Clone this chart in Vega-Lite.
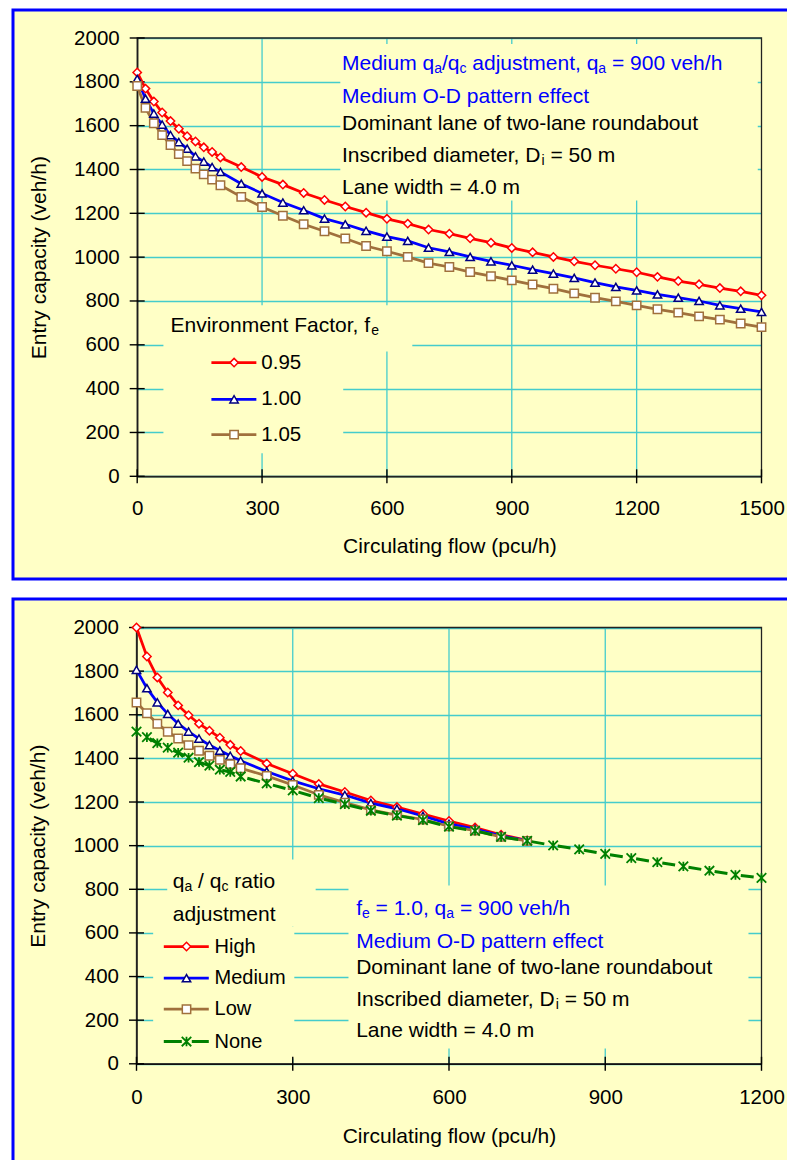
{
  "$schema": "https://vega.github.io/schema/vega-lite/v6.json",
  "usermeta": {"embedOptions": {"actions": false}},
  "background": "#FFFFFF",
  "padding": {"left": 11, "top": 8, "right": 0, "bottom": 0},
  "spacing": 16,
  "config": {
    "font": "Liberation Sans",
    "view": {"fill": "#FFFFC6", "stroke": "#0000FF", "strokeWidth": 3},
    "axis": {
      "labelFont": "Liberation Sans", "titleFont": "Liberation Sans",
      "labelFontSize": 20.5, "titleFontSize": 21, "titleFontWeight": "normal",
      "labelColor": "#000000", "titleColor": "#000000",
      "domainColor": "#000000", "domainWidth": 1.4,
      "ticks": false, "tickSize": 0,
      "gridColor": "#44CCCC", "gridWidth": 1.3, "gridOpacity": 1,
      "labelOverlap": false, "labelFlush": false, "format": "d"
    },
    "tick": {"color": "#000000", "thickness": 1.4, "opacity": 1},
    "text": {"font": "Liberation Sans"}
  },
  "datasets": {
    "envFactor": [
      {"flow":0,"capacity":1843,"factor":"0.95"},{"flow":20,"capacity":1769,"factor":"0.95"},{"flow":40,"capacity":1710,"factor":"0.95"},{"flow":60,"capacity":1660,"factor":"0.95"},{"flow":80,"capacity":1621,"factor":"0.95"},{"flow":100,"capacity":1586,"factor":"0.95"},{"flow":120,"capacity":1552,"factor":"0.95"},{"flow":140,"capacity":1528,"factor":"0.95"},{"flow":160,"capacity":1501,"factor":"0.95"},{"flow":180,"capacity":1480,"factor":"0.95"},{"flow":200,"capacity":1455,"factor":"0.95"},{"flow":250,"capacity":1411,"factor":"0.95"},{"flow":300,"capacity":1366,"factor":"0.95"},{"flow":350,"capacity":1331,"factor":"0.95"},{"flow":400,"capacity":1293,"factor":"0.95"},{"flow":450,"capacity":1261,"factor":"0.95"},{"flow":500,"capacity":1231,"factor":"0.95"},{"flow":550,"capacity":1203,"factor":"0.95"},{"flow":600,"capacity":1175,"factor":"0.95"},{"flow":650,"capacity":1153,"factor":"0.95"},{"flow":700,"capacity":1126,"factor":"0.95"},{"flow":750,"capacity":1107,"factor":"0.95"},{"flow":800,"capacity":1086,"factor":"0.95"},{"flow":850,"capacity":1066,"factor":"0.95"},{"flow":900,"capacity":1042,"factor":"0.95"},{"flow":950,"capacity":1022,"factor":"0.95"},{"flow":1000,"capacity":1001,"factor":"0.95"},{"flow":1050,"capacity":981,"factor":"0.95"},{"flow":1100,"capacity":963,"factor":"0.95"},{"flow":1150,"capacity":947,"factor":"0.95"},{"flow":1200,"capacity":931,"factor":"0.95"},{"flow":1250,"capacity":910,"factor":"0.95"},{"flow":1300,"capacity":891,"factor":"0.95"},{"flow":1350,"capacity":876,"factor":"0.95"},{"flow":1400,"capacity":859,"factor":"0.95"},{"flow":1450,"capacity":844,"factor":"0.95"},{"flow":1500,"capacity":826,"factor":"0.95"},
      {"flow":0,"capacity":1813,"factor":"1.00"},{"flow":20,"capacity":1723,"factor":"1.00"},{"flow":40,"capacity":1655,"factor":"1.00"},{"flow":60,"capacity":1605,"factor":"1.00"},{"flow":80,"capacity":1557,"factor":"1.00"},{"flow":100,"capacity":1525,"factor":"1.00"},{"flow":120,"capacity":1495,"factor":"1.00"},{"flow":140,"capacity":1460,"factor":"1.00"},{"flow":160,"capacity":1436,"factor":"1.00"},{"flow":180,"capacity":1411,"factor":"1.00"},{"flow":200,"capacity":1389,"factor":"1.00"},{"flow":250,"capacity":1335,"factor":"1.00"},{"flow":300,"capacity":1291,"factor":"1.00"},{"flow":350,"capacity":1249,"factor":"1.00"},{"flow":400,"capacity":1214,"factor":"1.00"},{"flow":450,"capacity":1176,"factor":"1.00"},{"flow":500,"capacity":1150,"factor":"1.00"},{"flow":550,"capacity":1120,"factor":"1.00"},{"flow":600,"capacity":1094,"factor":"1.00"},{"flow":650,"capacity":1074,"factor":"1.00"},{"flow":700,"capacity":1043,"factor":"1.00"},{"flow":750,"capacity":1024,"factor":"1.00"},{"flow":800,"capacity":1001,"factor":"1.00"},{"flow":850,"capacity":981,"factor":"1.00"},{"flow":900,"capacity":963,"factor":"1.00"},{"flow":950,"capacity":943,"factor":"1.00"},{"flow":1000,"capacity":925,"factor":"1.00"},{"flow":1050,"capacity":905,"factor":"1.00"},{"flow":1100,"capacity":884,"factor":"1.00"},{"flow":1150,"capacity":864,"factor":"1.00"},{"flow":1200,"capacity":848,"factor":"1.00"},{"flow":1250,"capacity":830,"factor":"1.00"},{"flow":1300,"capacity":815,"factor":"1.00"},{"flow":1350,"capacity":800,"factor":"1.00"},{"flow":1400,"capacity":780,"factor":"1.00"},{"flow":1450,"capacity":765,"factor":"1.00"},{"flow":1500,"capacity":750,"factor":"1.00"},
      {"flow":0,"capacity":1781,"factor":"1.05"},{"flow":20,"capacity":1681,"factor":"1.05"},{"flow":40,"capacity":1611,"factor":"1.05"},{"flow":60,"capacity":1557,"factor":"1.05"},{"flow":80,"capacity":1512,"factor":"1.05"},{"flow":100,"capacity":1470,"factor":"1.05"},{"flow":120,"capacity":1438,"factor":"1.05"},{"flow":140,"capacity":1404,"factor":"1.05"},{"flow":160,"capacity":1378,"factor":"1.05"},{"flow":180,"capacity":1354,"factor":"1.05"},{"flow":200,"capacity":1328,"factor":"1.05"},{"flow":250,"capacity":1275,"factor":"1.05"},{"flow":300,"capacity":1229,"factor":"1.05"},{"flow":350,"capacity":1189,"factor":"1.05"},{"flow":400,"capacity":1150,"factor":"1.05"},{"flow":450,"capacity":1118,"factor":"1.05"},{"flow":500,"capacity":1085,"factor":"1.05"},{"flow":550,"capacity":1051,"factor":"1.05"},{"flow":600,"capacity":1027,"factor":"1.05"},{"flow":650,"capacity":1001,"factor":"1.05"},{"flow":700,"capacity":973,"factor":"1.05"},{"flow":750,"capacity":955,"factor":"1.05"},{"flow":800,"capacity":932,"factor":"1.05"},{"flow":850,"capacity":913,"factor":"1.05"},{"flow":900,"capacity":894,"factor":"1.05"},{"flow":950,"capacity":875,"factor":"1.05"},{"flow":1000,"capacity":856,"factor":"1.05"},{"flow":1050,"capacity":835,"factor":"1.05"},{"flow":1100,"capacity":815,"factor":"1.05"},{"flow":1150,"capacity":798,"factor":"1.05"},{"flow":1200,"capacity":780,"factor":"1.05"},{"flow":1250,"capacity":762,"factor":"1.05"},{"flow":1300,"capacity":747,"factor":"1.05"},{"flow":1350,"capacity":730,"factor":"1.05"},{"flow":1400,"capacity":715,"factor":"1.05"},{"flow":1450,"capacity":697,"factor":"1.05"},{"flow":1500,"capacity":681,"factor":"1.05"}
    ],
    "ratioAdj": [
      {"flow":0,"capacity":2000,"adjustment":"High"},{"flow":20,"capacity":1867,"adjustment":"High"},{"flow":40,"capacity":1771,"adjustment":"High"},{"flow":60,"capacity":1702,"adjustment":"High"},{"flow":80,"capacity":1643,"adjustment":"High"},{"flow":100,"capacity":1598,"adjustment":"High"},{"flow":120,"capacity":1559,"adjustment":"High"},{"flow":140,"capacity":1527,"adjustment":"High"},{"flow":160,"capacity":1495,"adjustment":"High"},{"flow":180,"capacity":1462,"adjustment":"High"},{"flow":200,"capacity":1434,"adjustment":"High"},{"flow":250,"capacity":1377,"adjustment":"High"},{"flow":300,"capacity":1330,"adjustment":"High"},{"flow":350,"capacity":1283,"adjustment":"High"},{"flow":400,"capacity":1246,"adjustment":"High"},{"flow":450,"capacity":1207,"adjustment":"High"},{"flow":500,"capacity":1177,"adjustment":"High"},{"flow":550,"capacity":1145,"adjustment":"High"},{"flow":600,"capacity":1113,"adjustment":"High"},{"flow":650,"capacity":1083,"adjustment":"High"},{"flow":700,"capacity":1050,"adjustment":"High"},{"flow":750,"capacity":1024,"adjustment":"High"},
      {"flow":0,"capacity":1806,"adjustment":"Medium"},{"flow":20,"capacity":1722,"adjustment":"Medium"},{"flow":40,"capacity":1657,"adjustment":"Medium"},{"flow":60,"capacity":1604,"adjustment":"Medium"},{"flow":80,"capacity":1559,"adjustment":"Medium"},{"flow":100,"capacity":1523,"adjustment":"Medium"},{"flow":120,"capacity":1491,"adjustment":"Medium"},{"flow":140,"capacity":1461,"adjustment":"Medium"},{"flow":160,"capacity":1436,"adjustment":"Medium"},{"flow":180,"capacity":1412,"adjustment":"Medium"},{"flow":200,"capacity":1389,"adjustment":"Medium"},{"flow":250,"capacity":1340,"adjustment":"Medium"},{"flow":300,"capacity":1297,"adjustment":"Medium"},{"flow":350,"capacity":1261,"adjustment":"Medium"},{"flow":400,"capacity":1232,"adjustment":"Medium"},{"flow":450,"capacity":1195,"adjustment":"Medium"},{"flow":500,"capacity":1169,"adjustment":"Medium"},{"flow":550,"capacity":1136,"adjustment":"Medium"},{"flow":600,"capacity":1100,"adjustment":"Medium"},{"flow":650,"capacity":1076,"adjustment":"Medium"},{"flow":700,"capacity":1045,"adjustment":"Medium"},{"flow":750,"capacity":1023,"adjustment":"Medium"},
      {"flow":0,"capacity":1656,"adjustment":"Low"},{"flow":20,"capacity":1607,"adjustment":"Low"},{"flow":40,"capacity":1559,"adjustment":"Low"},{"flow":60,"capacity":1522,"adjustment":"Low"},{"flow":80,"capacity":1491,"adjustment":"Low"},{"flow":100,"capacity":1461,"adjustment":"Low"},{"flow":120,"capacity":1435,"adjustment":"Low"},{"flow":140,"capacity":1412,"adjustment":"Low"},{"flow":160,"capacity":1393,"adjustment":"Low"},{"flow":180,"capacity":1374,"adjustment":"Low"},{"flow":200,"capacity":1355,"adjustment":"Low"},{"flow":250,"capacity":1320,"adjustment":"Low"},{"flow":300,"capacity":1278,"adjustment":"Low"},{"flow":350,"capacity":1233,"adjustment":"Low"},{"flow":400,"capacity":1197,"adjustment":"Low"},{"flow":450,"capacity":1164,"adjustment":"Low"},{"flow":500,"capacity":1140,"adjustment":"Low"},{"flow":550,"capacity":1120,"adjustment":"Low"},{"flow":600,"capacity":1089,"adjustment":"Low"},{"flow":650,"capacity":1069,"adjustment":"Low"},{"flow":700,"capacity":1040,"adjustment":"Low"},{"flow":750,"capacity":1022,"adjustment":"Low"},
      {"flow":0,"capacity":1523,"adjustment":"None"},{"flow":20,"capacity":1497,"adjustment":"None"},{"flow":40,"capacity":1470,"adjustment":"None"},{"flow":60,"capacity":1449,"adjustment":"None"},{"flow":80,"capacity":1426,"adjustment":"None"},{"flow":100,"capacity":1403,"adjustment":"None"},{"flow":120,"capacity":1383,"adjustment":"None"},{"flow":140,"capacity":1367,"adjustment":"None"},{"flow":160,"capacity":1348,"adjustment":"None"},{"flow":180,"capacity":1338,"adjustment":"None"},{"flow":200,"capacity":1317,"adjustment":"None"},{"flow":250,"capacity":1285,"adjustment":"None"},{"flow":300,"capacity":1253,"adjustment":"None"},{"flow":350,"capacity":1218,"adjustment":"None"},{"flow":400,"capacity":1190,"adjustment":"None"},{"flow":450,"capacity":1160,"adjustment":"None"},{"flow":500,"capacity":1138,"adjustment":"None"},{"flow":550,"capacity":1117,"adjustment":"None"},{"flow":600,"capacity":1087,"adjustment":"None"},{"flow":650,"capacity":1068,"adjustment":"None"},{"flow":700,"capacity":1040,"adjustment":"None"},{"flow":750,"capacity":1022,"adjustment":"None"},{"flow":800,"capacity":1001,"adjustment":"None"},{"flow":850,"capacity":983,"adjustment":"None"},{"flow":900,"capacity":962,"adjustment":"None"},{"flow":950,"capacity":943,"adjustment":"None"},{"flow":1000,"capacity":924,"adjustment":"None"},{"flow":1050,"capacity":905,"adjustment":"None"},{"flow":1100,"capacity":885,"adjustment":"None"},{"flow":1150,"capacity":866,"adjustment":"None"},{"flow":1200,"capacity":852,"adjustment":"None"}
    ],
    "capTicks": [{"v":0},{"v":200},{"v":400},{"v":600},{"v":800},{"v":1000},{"v":1200},{"v":1400},{"v":1600},{"v":1800},{"v":2000}],
    "flowTicksA": [{"v":0},{"v":300},{"v":600},{"v":900},{"v":1200},{"v":1500}],
    "flowTicksB": [{"v":0},{"v":300},{"v":600},{"v":900},{"v":1200}]
  },
  "vconcat": [
    {
      "width": 776,
      "height": 569,
      "layer": [
        {"data": {"name": "flowTicksA"}, "transform": [{"filter": "datum.v > 0 && datum.v < 1500"}],
         "mark": {"type": "rule", "color": "#44CCCC", "strokeWidth": 1.3},
         "encoding": {"x": {"field": "v", "type": "quantitative"}, "y": {"datum": 0}, "y2": {"datum": 2000}}},
        {"data": {"values": [{}]}, "mark": {"type": "rect", "fill": "#FFFFC6"},
         "encoding": {"x": {"datum": 488}, "x2": {"datum": 1491}, "y": {"datum": 1259}, "y2": {"datum": 1973}}},
        {"data": {"values": [{}]}, "mark": {"type": "rect", "fill": "#FFFFC6"},
         "encoding": {"x": {"datum": 63}, "x2": {"datum": 661}, "y": {"datum": 570}, "y2": {"datum": 780}}},
        {"data": {"values": [{}]}, "mark": {"type": "rect", "fill": "#FFFFC6"},
         "encoding": {"x": {"datum": 63}, "x2": {"datum": 495}, "y": {"datum": 105}, "y2": {"datum": 570}}},
        {"data": {"values": [{}]}, "mark": {"type": "rect", "fill": "#FFFFFF", "fillOpacity": 0, "stroke": "#222222", "strokeWidth": 1.3},
         "encoding": {"x": {"datum": 0}, "x2": {"datum": 1500}, "y": {"datum": 0}, "y2": {"datum": 2000}}},
        {"data": {"name": "capTicks"}, "mark": {"type": "tick", "orient": "horizontal", "size": 15},
         "encoding": {"y": {"field": "v", "type": "quantitative"}, "x": {"datum": 0}}},
        {"data": {"name": "flowTicksA"}, "mark": {"type": "tick", "orient": "vertical", "size": 14},
         "encoding": {"x": {"field": "v", "type": "quantitative"}, "y": {"datum": 0}}},
        {
          "data": {"name": "envFactor"},
          "mark": {"type": "line", "strokeWidth": 2.75},
          "encoding": {
            "x": {"field": "flow", "type": "quantitative",
                  "scale": {"domain": [0, 1500], "range": [124.2, 748.5], "nice": false},
                  "axis": {"title": "Circulating flow (pcu/h)", "values": [0, 300, 600, 900, 1200, 1500], "grid": false, "offset": -102.7, "labelPadding": 22, "titlePadding": 17}},
            "y": {"field": "capacity", "type": "quantitative",
                  "scale": {"domain": [0, 2000], "range": [466.3, 28], "nice": false},
                  "axis": {"title": "Entry capacity (veh/h)", "values": [0, 200, 400, 600, 800, 1000, 1200, 1400, 1600, 1800, 2000], "grid": true, "offset": -124.2, "labelPadding": 18, "titlePadding": 24}},
            "color": {"field": "factor", "type": "nominal",
                      "scale": {"domain": ["0.95", "1.00", "1.05"], "range": ["#FF0000", "#0000FF", "#A0703C"]}, "legend": null}
          }
        },
        {
          "data": {"name": "envFactor"},
          "mark": {"type": "point", "filled": true, "fill": "#FFFFFF", "strokeWidth": 1.5, "size": 70, "opacity": 1},
          "encoding": {
            "x": {"field": "flow", "type": "quantitative"},
            "y": {"field": "capacity", "type": "quantitative"},
            "shape": {"field": "factor", "type": "nominal",
                      "scale": {"domain": ["0.95", "1.00", "1.05"], "range": ["diamond", "triangle-up", "square"]}, "legend": null},
            "stroke": {"field": "factor", "type": "nominal",
                       "scale": {"domain": ["0.95", "1.00", "1.05"], "range": ["#FF0000", "#000080", "#A0703C"]}, "legend": null}
          }
        },
        {"data": {"values": [{}]}, "mark": {"type": "text", "align": "left", "baseline": "alphabetic", "fontSize": 21, "color": "#0000FF", "dx": 0},
         "encoding": {"x": {"datum": 492}, "y": {"datum": 1853}, "text": {"value": "Medium q"}}},
        {"data": {"values": [{}]}, "mark": {"type": "text", "align": "left", "baseline": "alphabetic", "fontSize": 14, "color": "#0000FF", "dx": 92.2, "dy": 3},
         "encoding": {"x": {"datum": 492}, "y": {"datum": 1853}, "text": {"value": "a"}}},
        {"data": {"values": [{}]}, "mark": {"type": "text", "align": "left", "baseline": "alphabetic", "fontSize": 21, "color": "#0000FF", "dx": 100},
         "encoding": {"x": {"datum": 492}, "y": {"datum": 1853}, "text": {"value": "/q"}}},
        {"data": {"values": [{}]}, "mark": {"type": "text", "align": "left", "baseline": "alphabetic", "fontSize": 14, "color": "#0000FF", "dx": 117.5, "dy": 3},
         "encoding": {"x": {"datum": 492}, "y": {"datum": 1853}, "text": {"value": "c"}}},
        {"data": {"values": [{}]}, "mark": {"type": "text", "align": "left", "baseline": "alphabetic", "fontSize": 21, "color": "#0000FF", "dx": 130.3},
         "encoding": {"x": {"datum": 492}, "y": {"datum": 1853}, "text": {"value": "adjustment, q"}}},
        {"data": {"values": [{}]}, "mark": {"type": "text", "align": "left", "baseline": "alphabetic", "fontSize": 14, "color": "#0000FF", "dx": 256.4, "dy": 3},
         "encoding": {"x": {"datum": 492}, "y": {"datum": 1853}, "text": {"value": "a"}}},
        {"data": {"values": [{}]}, "mark": {"type": "text", "align": "left", "baseline": "alphabetic", "fontSize": 21, "color": "#0000FF", "dx": 270},
         "encoding": {"x": {"datum": 492}, "y": {"datum": 1853}, "text": {"value": "= 900 veh/h"}}},
        {"data": {"values": [{}]}, "mark": {"type": "text", "align": "left", "baseline": "alphabetic", "fontSize": 21, "color": "#0000FF"},
         "encoding": {"x": {"datum": 492}, "y": {"datum": 1703}, "text": {"value": "Medium O-D pattern effect"}}},
        {"data": {"values": [{}]}, "mark": {"type": "text", "align": "left", "baseline": "alphabetic", "fontSize": 21, "color": "#000000"},
         "encoding": {"x": {"datum": 492}, "y": {"datum": 1579}, "text": {"value": "Dominant lane of two-lane roundabout"}}},
        {"data": {"values": [{}]}, "mark": {"type": "text", "align": "left", "baseline": "alphabetic", "fontSize": 21, "color": "#000000"},
         "encoding": {"x": {"datum": 492}, "y": {"datum": 1434}, "text": {"value": "Inscribed diameter, D"}}},
        {"data": {"values": [{}]}, "mark": {"type": "text", "align": "left", "baseline": "alphabetic", "fontSize": 14, "color": "#000000", "dx": 199.6, "dy": 3},
         "encoding": {"x": {"datum": 492}, "y": {"datum": 1434}, "text": {"value": "i"}}},
        {"data": {"values": [{}]}, "mark": {"type": "text", "align": "left", "baseline": "alphabetic", "fontSize": 21, "color": "#000000", "dx": 208.5},
         "encoding": {"x": {"datum": 492}, "y": {"datum": 1434}, "text": {"value": "= 50 m"}}},
        {"data": {"values": [{}]}, "mark": {"type": "text", "align": "left", "baseline": "alphabetic", "fontSize": 21, "color": "#000000"},
         "encoding": {"x": {"datum": 492}, "y": {"datum": 1290}, "text": {"value": "Lane width = 4.0 m"}}},
        {"data": {"values": [{}]}, "mark": {"type": "text", "align": "left", "baseline": "alphabetic", "fontSize": 21, "color": "#000000"},
         "encoding": {"x": {"datum": 80}, "y": {"datum": 658.5}, "text": {"value": "Environment Factor, f"}}},
        {"data": {"values": [{}]}, "mark": {"type": "text", "align": "left", "baseline": "alphabetic", "fontSize": 14, "color": "#000000", "dx": 200.7, "dy": 3},
         "encoding": {"x": {"datum": 80}, "y": {"datum": 658.5}, "text": {"value": "e"}}},
        {"data": {"values": [{}]}, "mark": {"type": "rule", "color": "#FF0000", "strokeWidth": 2.75},
         "encoding": {"x": {"datum": 178.3}, "x2": {"datum": 286.3}, "y": {"datum": 518.8}}},
        {"data": {"values": [{}]}, "mark": {"type": "point", "shape": "diamond", "filled": true, "fill": "#FFFFFF", "stroke": "#FF0000", "strokeWidth": 1.5, "size": 70, "opacity": 1},
         "encoding": {"x": {"datum": 232.8}, "y": {"datum": 518.8}}},
        {"data": {"values": [{}]}, "mark": {"type": "text", "align": "left", "baseline": "middle", "fontSize": 20.5, "color": "#000000"},
         "encoding": {"x": {"datum": 298.3}, "y": {"datum": 518.8}, "text": {"value": "0.95"}}},
        {"data": {"values": [{}]}, "mark": {"type": "rule", "color": "#0000FF", "strokeWidth": 2.75},
         "encoding": {"x": {"datum": 178.3}, "x2": {"datum": 286.3}, "y": {"datum": 351.4}}},
        {"data": {"values": [{}]}, "mark": {"type": "point", "shape": "triangle-up", "filled": true, "fill": "#FFFFFF", "stroke": "#000080", "strokeWidth": 1.5, "size": 70, "opacity": 1},
         "encoding": {"x": {"datum": 232.8}, "y": {"datum": 351.4}}},
        {"data": {"values": [{}]}, "mark": {"type": "text", "align": "left", "baseline": "middle", "fontSize": 20.5, "color": "#000000"},
         "encoding": {"x": {"datum": 298.3}, "y": {"datum": 351.4}, "text": {"value": "1.00"}}},
        {"data": {"values": [{}]}, "mark": {"type": "rule", "color": "#A0703C", "strokeWidth": 2.75},
         "encoding": {"x": {"datum": 178.3}, "x2": {"datum": 286.3}, "y": {"datum": 190.3}}},
        {"data": {"values": [{}]}, "mark": {"type": "point", "shape": "square", "filled": true, "fill": "#FFFFFF", "stroke": "#A0703C", "strokeWidth": 1.5, "size": 70, "opacity": 1},
         "encoding": {"x": {"datum": 232.8}, "y": {"datum": 190.3}}},
        {"data": {"values": [{}]}, "mark": {"type": "text", "align": "left", "baseline": "middle", "fontSize": 20.5, "color": "#000000"},
         "encoding": {"x": {"datum": 298.3}, "y": {"datum": 190.3}, "text": {"value": "1.05"}}}
      ]
    },
    {
      "width": 776,
      "height": 566,
      "layer": [
        {"data": {"name": "flowTicksB"}, "transform": [{"filter": "datum.v > 0 && datum.v < 1200"}],
         "mark": {"type": "rule", "color": "#44CCCC", "strokeWidth": 1.3},
         "encoding": {"x": {"field": "v", "type": "quantitative"}, "y": {"datum": 0}, "y2": {"datum": 2000}}},
        {"data": {"values": [{}]}, "mark": {"type": "rect", "fill": "#FFFFC6"},
         "encoding": {"x": {"datum": 407}, "x2": {"datum": 1175}, "y": {"datum": 70}, "y2": {"datum": 817.5}}},
        {"data": {"values": [{}]}, "mark": {"type": "rect", "fill": "#FFFFC6"},
         "encoding": {"x": {"datum": 59}, "x2": {"datum": 344}, "y": {"datum": 629}, "y2": {"datum": 936}}},
        {"data": {"values": [{}]}, "mark": {"type": "rect", "fill": "#FFFFC6"},
         "encoding": {"x": {"datum": 32}, "x2": {"datum": 303}, "y": {"datum": 24}, "y2": {"datum": 629}}},
        {"data": {"values": [{}]}, "mark": {"type": "rect", "fill": "#FFFFFF", "fillOpacity": 0, "stroke": "#222222", "strokeWidth": 1.3},
         "encoding": {"x": {"datum": 0}, "x2": {"datum": 1200}, "y": {"datum": 0}, "y2": {"datum": 2000}}},
        {"data": {"name": "capTicks"}, "mark": {"type": "tick", "orient": "horizontal", "size": 15},
         "encoding": {"y": {"field": "v", "type": "quantitative"}, "x": {"datum": 0}}},
        {"data": {"name": "flowTicksB"}, "mark": {"type": "tick", "orient": "vertical", "size": 14},
         "encoding": {"x": {"field": "v", "type": "quantitative"}, "y": {"datum": 0}}},
        {
          "data": {"name": "ratioAdj"},
          "transform": [{"filter": "datum.adjustment !== 'None'"}],
          "mark": {"type": "line", "strokeWidth": 2.75},
          "encoding": {
            "x": {"field": "flow", "type": "quantitative",
                  "scale": {"domain": [0, 1200], "range": [123.5, 748.5], "nice": false},
                  "axis": {"title": "Circulating flow (pcu/h)", "values": [0, 300, 600, 900, 1200], "grid": false, "offset": -101.2, "labelPadding": 24, "titlePadding": 17}},
            "y": {"field": "capacity", "type": "quantitative",
                  "scale": {"domain": [0, 2000], "range": [464.8, 28.5], "nice": false},
                  "axis": {"title": "Entry capacity (veh/h)", "values": [0, 200, 400, 600, 800, 1000, 1200, 1400, 1600, 1800, 2000], "grid": true, "offset": -123.5, "labelPadding": 18, "titlePadding": 24}},
            "color": {"field": "adjustment", "type": "nominal",
                      "scale": {"domain": ["High", "Medium", "Low"], "range": ["#FF0000", "#0000FF", "#A0703C"]}, "legend": null}
          }
        },
        {
          "data": {"name": "ratioAdj"},
          "transform": [{"filter": "datum.adjustment !== 'None'"}],
          "mark": {"type": "point", "filled": true, "fill": "#FFFFFF", "strokeWidth": 1.5, "size": 70, "opacity": 1},
          "encoding": {
            "x": {"field": "flow", "type": "quantitative"},
            "y": {"field": "capacity", "type": "quantitative"},
            "shape": {"field": "adjustment", "type": "nominal",
                      "scale": {"domain": ["High", "Medium", "Low"], "range": ["diamond", "triangle-up", "square"]}, "legend": null},
            "stroke": {"field": "adjustment", "type": "nominal",
                       "scale": {"domain": ["High", "Medium", "Low"], "range": ["#FF0000", "#000080", "#A0703C"]}, "legend": null}
          }
        },
        {
          "data": {"name": "ratioAdj"},
          "transform": [{"filter": "datum.adjustment === 'None'"}],
          "mark": {"type": "line", "strokeWidth": 3, "color": "#008000", "strokeDash": [13, 13.5], "strokeDashOffset": 11.8},
          "encoding": {
            "x": {"field": "flow", "type": "quantitative"},
            "y": {"field": "capacity", "type": "quantitative"}
          }
        },
        {
          "data": {"name": "ratioAdj"},
          "transform": [{"filter": "datum.adjustment === 'None'"}],
          "mark": {"type": "point", "shape": "M-1,-1L1,1M-1,1L1,-1M0,-1L0,1", "filled": false, "stroke": "#008000", "strokeWidth": 1.8, "size": 90, "opacity": 1},
          "encoding": {
            "x": {"field": "flow", "type": "quantitative"},
            "y": {"field": "capacity", "type": "quantitative"}
          }
        },
        {"data": {"values": [{}]}, "mark": {"type": "text", "align": "left", "baseline": "alphabetic", "fontSize": 21, "color": "#0000FF"},
         "encoding": {"x": {"datum": 421.8}, "y": {"datum": 683}, "text": {"value": "f"}}},
        {"data": {"values": [{}]}, "mark": {"type": "text", "align": "left", "baseline": "alphabetic", "fontSize": 14, "color": "#0000FF", "dx": 5.8, "dy": 3},
         "encoding": {"x": {"datum": 421.8}, "y": {"datum": 683}, "text": {"value": "e"}}},
        {"data": {"values": [{}]}, "mark": {"type": "text", "align": "left", "baseline": "alphabetic", "fontSize": 21, "color": "#0000FF", "dx": 19.4},
         "encoding": {"x": {"datum": 421.8}, "y": {"datum": 683}, "text": {"value": "= 1.0, q"}}},
        {"data": {"values": [{}]}, "mark": {"type": "text", "align": "left", "baseline": "alphabetic", "fontSize": 14, "color": "#0000FF", "dx": 90.1, "dy": 3},
         "encoding": {"x": {"datum": 421.8}, "y": {"datum": 683}, "text": {"value": "a"}}},
        {"data": {"values": [{}]}, "mark": {"type": "text", "align": "left", "baseline": "alphabetic", "fontSize": 21, "color": "#0000FF", "dx": 103.7},
         "encoding": {"x": {"datum": 421.8}, "y": {"datum": 683}, "text": {"value": "= 900 veh/h"}}},
        {"data": {"values": [{}]}, "mark": {"type": "text", "align": "left", "baseline": "alphabetic", "fontSize": 21, "color": "#0000FF"},
         "encoding": {"x": {"datum": 421.8}, "y": {"datum": 533}, "text": {"value": "Medium O-D pattern effect"}}},
        {"data": {"values": [{}]}, "mark": {"type": "text", "align": "left", "baseline": "alphabetic", "fontSize": 21, "color": "#000000"},
         "encoding": {"x": {"datum": 421.8}, "y": {"datum": 410.7}, "text": {"value": "Dominant lane of two-lane roundabout"}}},
        {"data": {"values": [{}]}, "mark": {"type": "text", "align": "left", "baseline": "alphabetic", "fontSize": 21, "color": "#000000"},
         "encoding": {"x": {"datum": 421.8}, "y": {"datum": 262.7}, "text": {"value": "Inscribed diameter, D"}}},
        {"data": {"values": [{}]}, "mark": {"type": "text", "align": "left", "baseline": "alphabetic", "fontSize": 14, "color": "#000000", "dx": 199.6, "dy": 3},
         "encoding": {"x": {"datum": 421.8}, "y": {"datum": 262.7}, "text": {"value": "i"}}},
        {"data": {"values": [{}]}, "mark": {"type": "text", "align": "left", "baseline": "alphabetic", "fontSize": 21, "color": "#000000", "dx": 208.5},
         "encoding": {"x": {"datum": 421.8}, "y": {"datum": 262.7}, "text": {"value": "= 50 m"}}},
        {"data": {"values": [{}]}, "mark": {"type": "text", "align": "left", "baseline": "alphabetic", "fontSize": 21, "color": "#000000"},
         "encoding": {"x": {"datum": 421.8}, "y": {"datum": 122}, "text": {"value": "Lane width = 4.0 m"}}},
        {"data": {"values": [{}]}, "mark": {"type": "text", "align": "left", "baseline": "alphabetic", "fontSize": 21, "color": "#000000"},
         "encoding": {"x": {"datum": 69.7}, "y": {"datum": 804.9}, "text": {"value": "q"}}},
        {"data": {"values": [{}]}, "mark": {"type": "text", "align": "left", "baseline": "alphabetic", "fontSize": 14, "color": "#000000", "dx": 11.7, "dy": 3},
         "encoding": {"x": {"datum": 69.7}, "y": {"datum": 804.9}, "text": {"value": "a"}}},
        {"data": {"values": [{}]}, "mark": {"type": "text", "align": "left", "baseline": "alphabetic", "fontSize": 21, "color": "#000000", "dx": 25.3},
         "encoding": {"x": {"datum": 69.7}, "y": {"datum": 804.9}, "text": {"value": "/ q"}}},
        {"data": {"values": [{}]}, "mark": {"type": "text", "align": "left", "baseline": "alphabetic", "fontSize": 14, "color": "#000000", "dx": 48.7, "dy": 3},
         "encoding": {"x": {"datum": 69.7}, "y": {"datum": 804.9}, "text": {"value": "c"}}},
        {"data": {"values": [{}]}, "mark": {"type": "text", "align": "left", "baseline": "alphabetic", "fontSize": 21, "color": "#000000", "dx": 61.5},
         "encoding": {"x": {"datum": 69.7}, "y": {"datum": 804.9}, "text": {"value": "ratio"}}},
        {"data": {"values": [{}]}, "mark": {"type": "text", "align": "left", "baseline": "alphabetic", "fontSize": 21, "color": "#000000"},
         "encoding": {"x": {"datum": 69.7}, "y": {"datum": 655.5}, "text": {"value": "adjustment"}}},
        {"data": {"values": [{}]}, "mark": {"type": "rule", "color": "#FF0000", "strokeWidth": 2.75},
         "encoding": {"x": {"datum": 52.4}, "x2": {"datum": 138.8}, "y": {"datum": 537.7}}},
        {"data": {"values": [{}]}, "mark": {"type": "point", "shape": "diamond", "filled": true, "fill": "#FFFFFF", "stroke": "#FF0000", "strokeWidth": 1.5, "size": 70, "opacity": 1},
         "encoding": {"x": {"datum": 96}, "y": {"datum": 537.7}}},
        {"data": {"values": [{}]}, "mark": {"type": "text", "align": "left", "baseline": "middle", "fontSize": 20, "color": "#000000"},
         "encoding": {"x": {"datum": 149.8}, "y": {"datum": 537.7}, "text": {"value": "High"}}},
        {"data": {"values": [{}]}, "mark": {"type": "rule", "color": "#0000FF", "strokeWidth": 2.75},
         "encoding": {"x": {"datum": 52.4}, "x2": {"datum": 138.8}, "y": {"datum": 392.4}}},
        {"data": {"values": [{}]}, "mark": {"type": "point", "shape": "triangle-up", "filled": true, "fill": "#FFFFFF", "stroke": "#000080", "strokeWidth": 1.5, "size": 70, "opacity": 1},
         "encoding": {"x": {"datum": 96}, "y": {"datum": 392.4}}},
        {"data": {"values": [{}]}, "mark": {"type": "text", "align": "left", "baseline": "middle", "fontSize": 20, "color": "#000000"},
         "encoding": {"x": {"datum": 149.8}, "y": {"datum": 392.4}, "text": {"value": "Medium"}}},
        {"data": {"values": [{}]}, "mark": {"type": "rule", "color": "#A0703C", "strokeWidth": 2.75},
         "encoding": {"x": {"datum": 52.4}, "x2": {"datum": 138.8}, "y": {"datum": 250.3}}},
        {"data": {"values": [{}]}, "mark": {"type": "point", "shape": "square", "filled": true, "fill": "#FFFFFF", "stroke": "#A0703C", "strokeWidth": 1.5, "size": 70, "opacity": 1},
         "encoding": {"x": {"datum": 96}, "y": {"datum": 250.3}}},
        {"data": {"values": [{}]}, "mark": {"type": "text", "align": "left", "baseline": "middle", "fontSize": 20, "color": "#000000"},
         "encoding": {"x": {"datum": 149.8}, "y": {"datum": 250.3}, "text": {"value": "Low"}}},
        {"data": {"values": [{}]}, "mark": {"type": "rule", "color": "#008000", "strokeWidth": 3, "strokeDash": [18, 10]},
         "encoding": {"x": {"datum": 52.4}, "x2": {"datum": 138.8}, "y": {"datum": 102.2}}},
        {"data": {"values": [{}]}, "mark": {"type": "point", "shape": "M-1,-1L1,1M-1,1L1,-1M0,-1L0,1", "filled": false, "stroke": "#008000", "strokeWidth": 1.8, "size": 90, "opacity": 1},
         "encoding": {"x": {"datum": 96}, "y": {"datum": 102.2}}},
        {"data": {"values": [{}]}, "mark": {"type": "text", "align": "left", "baseline": "middle", "fontSize": 20, "color": "#000000"},
         "encoding": {"x": {"datum": 149.8}, "y": {"datum": 102.2}, "text": {"value": "None"}}}
      ]
    }
  ]
}
